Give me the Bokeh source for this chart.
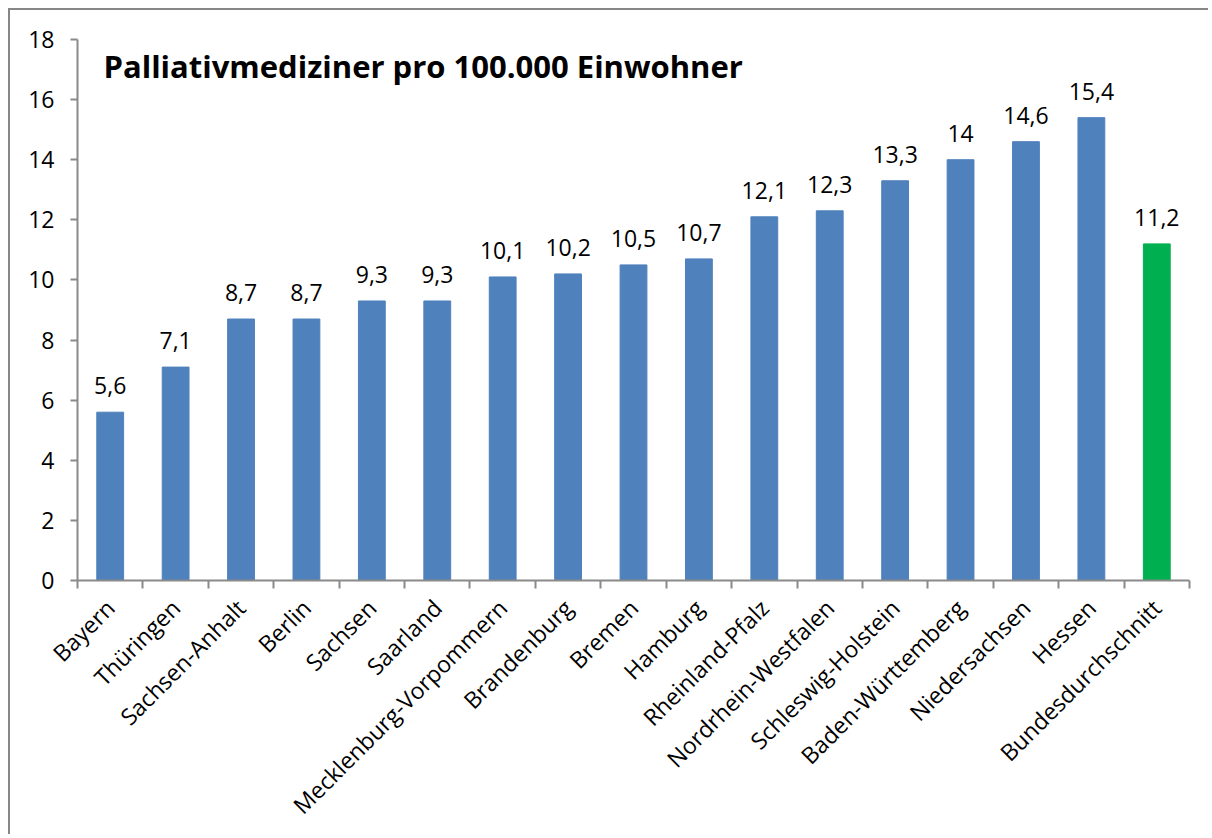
from bokeh.plotting import figure
from bokeh.models import FixedTicker, ColumnDataSource, Label, Range1d
from bokeh.core.properties import value
from bokeh.embed import file_html
from bokeh.resources import INLINE
import math

categories = ["Bayern", "Thüringen", "Sachsen-Anhalt", "Berlin", "Sachsen", "Saarland",
              "Mecklenburg-Vorpommern", "Brandenburg", "Bremen", "Hamburg", "Rheinland-Pfalz",
              "Nordrhein-Westfalen", "Schleswig-Holstein", "Baden-Württemberg", "Niedersachsen",
              "Hessen", "Bundesdurchschnitt"]
values = [5.6, 7.1, 8.7, 8.7, 9.3, 9.3, 10.1, 10.2, 10.5, 10.7, 12.1, 12.3, 13.3, 14.0, 14.6, 15.4, 11.2]
y_ticks = [0, 2, 4, 6, 8, 10, 12, 14, 16, 18]
title_text = "Palliativmediziner pro 100.000 Einwohner"

FONT = "Open Sans"
AXIS_GRAY = "#8a8a8a"

n = len(categories)
xs = [i + 0.5 for i in range(n)]
colors = ["#00B050" if c == "Bundesdurchschnitt" else "#4F81BD" for c in categories]
lbls = [("%g" % v).replace(".", ",") for v in values]
src = ColumnDataSource(dict(x=xs, top=values, color=colors, label=lbls))

p = figure(width=1200, height=826, output_backend="svg", toolbar_location=None,
           x_range=Range1d(0, n), y_range=Range1d(0, 18),
           min_border_left=67, min_border_top=29, min_border_right=21, min_border_bottom=256)
p.styles = {"border-left": "2px solid #878787", "border-top": "2px solid #878787",
            "margin-left": "8px", "margin-top": "8px"}
p.outline_line_color = None
p.xgrid.grid_line_color = None
p.ygrid.grid_line_color = None
p.background_fill_color = "white"
p.border_fill_color = "white"

p.vbar(x="x", top="top", bottom=0, width=0.41, color="color", source=src)
p.text(x="x", y="top", text="label", source=src, text_align="center", text_baseline="bottom",
       y_offset=-18, text_font=value(FONT), text_font_size="23px", text_color="black")

# y axis
ya = p.yaxis[0]
ya.ticker = FixedTicker(ticks=y_ticks)
ya.axis_line_color = AXIS_GRAY
ya.axis_line_width = 2
ya.major_tick_line_color = AXIS_GRAY
ya.major_tick_line_width = 2
ya.major_tick_out = 7
ya.major_tick_in = 0
ya.minor_tick_line_color = None
ya.major_label_text_font = FONT
ya.major_label_text_font_size = "23px"
ya.major_label_text_color = "black"
ya.major_label_standoff = 16

# x axis
xa = p.xaxis[0]
xa.ticker = FixedTicker(ticks=xs, minor_ticks=list(range(n + 1)))
xa.major_label_overrides = {x: c for x, c in zip(xs, categories)}
xa.major_label_orientation = math.pi / 4
xa.axis_line_color = AXIS_GRAY
xa.axis_line_width = 2
xa.major_tick_line_color = None
xa.minor_tick_line_color = AXIS_GRAY
xa.minor_tick_line_width = 2
xa.minor_tick_out = 8
xa.minor_tick_in = 0
xa.major_label_text_font = FONT
xa.major_label_text_font_size = "23px"
xa.major_label_text_color = "black"
xa.major_label_standoff = 15

p.add_layout(Label(x=26, y=536, x_units="screen", y_units="screen", text=title_text,
                   text_font=FONT, text_font_size="31px", text_font_style="bold",
                   text_color="black", text_baseline="top"))

open("out.html", "w").write(file_html(p, INLINE))
